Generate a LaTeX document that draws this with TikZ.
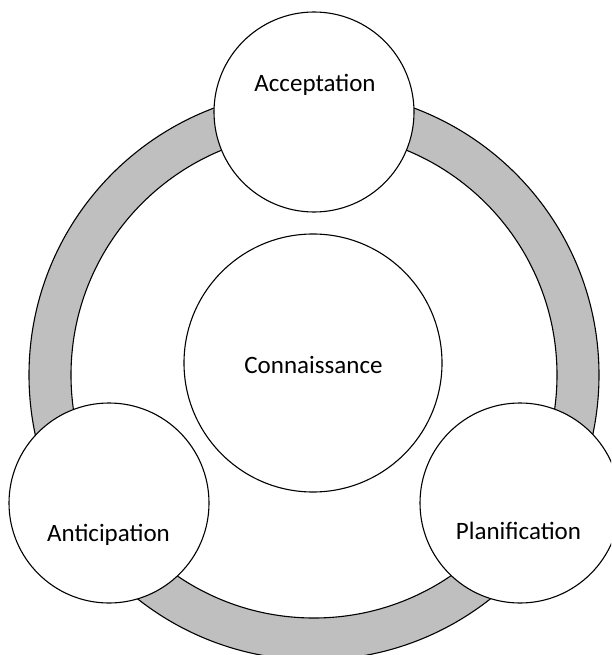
\documentclass[tikz,border=0pt]{standalone}
\usepackage{fontspec}
\setmainfont{Carlito}
\begin{document}
\begin{tikzpicture}[x=1pt,y=-1pt,
  ringfill/.style={fill=ringgrey,even odd rule},
  ringline/.style={draw=black,line width=1.1pt},
  bub/.style={circle,draw=black,fill=white,line width=1.1pt,inner sep=0pt},
  lbl/.style={font=\fontsize{25}{30}\selectfont,text=black,anchor=base,inner sep=0pt}]
\definecolor{ringgrey}{HTML}{BFBFBF}
\useasboundingbox (0,0) rectangle (611,655);
\clip (0,0) rectangle (611,655);
\coordinate (rc) at (314,375);
\fill[ringfill] (rc) circle (285pt) (rc) circle (243pt);
\draw[ringline] (rc) circle (285pt);
\draw[ringline] (rc) circle (243pt);
\node[bub,minimum size=258pt] (con) at (313,363) {};
\node[bub,minimum size=200pt] (acc) at (314,112) {};
\node[bub,minimum size=200pt] (ant) at (109,503) {};
\node[bub,minimum size=200pt] (pla) at (520,503) {};
\node[lbl] (conT) at (313.5,373) {Connaissance};
\node[lbl] (accT) at (315,92) {Acceptation};
\node[lbl] (antT) at (108.5,541) {Anticipation};
\node[lbl] (plaT) at (518.5,539) {Planification};
\end{tikzpicture}
\end{document}
